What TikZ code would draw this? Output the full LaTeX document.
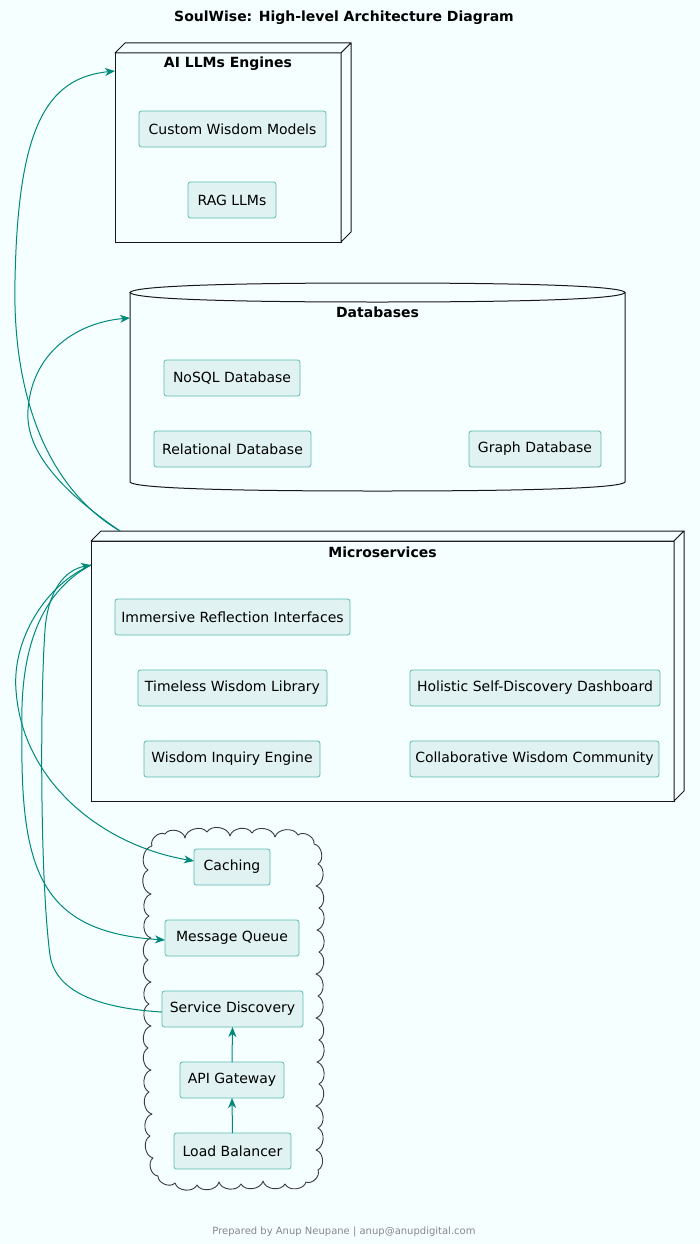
\documentclass[tikz,border=0pt]{standalone}
\usepackage{fontspec}
\setmainfont{DejaVu Sans}
\usetikzlibrary{arrows.meta,calc}
\definecolor{bgc}{HTML}{F5FFFF}
\definecolor{boxfill}{HTML}{E0F2F1}
\definecolor{boxline}{HTML}{5DBBB0}
\definecolor{arrowc}{HTML}{00897B}
\definecolor{footc}{HTML}{888888}
\definecolor{edgec}{HTML}{181818}
\begin{document}
\begin{tikzpicture}[x=1pt,y=-1pt,
  comp/.style={draw=boxline, fill=boxfill, rounded corners=2.5pt, minimum height=36pt,
    inner sep=0pt, outer sep=0pt, font=\fontsize{14pt}{16pt}\selectfont, text=black, line width=0.8pt},
  frontbox/.style={draw=edgec, fill=bgc, line width=1pt, inner sep=0pt, outer sep=0pt, anchor=north west},
  face/.style={draw=edgec, fill=bgc, line width=1pt, line join=round},
  grouptitle/.style={font=\bfseries\fontsize{14pt}{16pt}\selectfont, text=black},
  conn/.style={draw=arrowc, line width=1pt, -{Stealth[length=10pt,width=8pt,inset=3pt]}},
  cloudline/.style={draw=edgec!85, line width=0.9pt, line join=round}
]
\useasboundingbox[fill=bgc] (0,0) rectangle (700,1244);

% title
\node[font=\bfseries\fontsize{14pt}{16pt}\selectfont] (title) at (344,18) {SoulWise: High-level Architecture Diagram};

% AI LLMs Engines (3D node)
\node[frontbox, minimum width=226pt, minimum height=189pt] (ai) at (115,53) {};
\draw[face] (115,53) -- (125,43) -- (351,43) -- (341,53) -- cycle;
\draw[face] (341,53) -- (351,43) -- (351,232) -- (341,242) -- cycle;
\node[grouptitle] (aititle) at (228,64) {AI LLMs Engines};
\node[comp, minimum width=187pt] (cwm) at (232.5,129) {Custom Wisdom Models};
\node[comp, minimum width=88pt] (rag) at (232,200) {RAG LLMs};

% Databases (cylinder)
\node[inner sep=0pt, outer sep=0pt, minimum width=495pt, minimum height=190pt, anchor=north west] (db) at (130,292) {};
\draw[draw=edgec, fill=bgc, line width=1pt]
  (130,292.5) -- (130,482) .. controls (135,491) and (330,491) .. (377.5,491)
  .. controls (425,491) and (620,491) .. (625,482) -- (625,292.5);
\draw[draw=edgec, fill=bgc, line width=1pt]
  (130,292.5) .. controls (135,283) and (330,283) .. (377.5,283)
  .. controls (425,283) and (620,283) .. (625,292.5)
  .. controls (620,302) and (425,302) .. (377.5,302)
  .. controls (330,302) and (135,302) .. (130,292.5) -- cycle;
\node[grouptitle] (dbtitle) at (377.5,312) {Databases};
\node[comp, minimum width=136pt] (nosql) at (232,378) {NoSQL Database};
\node[comp, minimum width=157pt] (rel) at (232.5,449) {Relational Database};
\node[comp, minimum width=132pt] (graph) at (535,449) {Graph Database};

% Microservices (3D node)
\node[frontbox, minimum width=583pt, minimum height=260pt] (ms) at (91,541) {};
\draw[face] (91,541) -- (101,531) -- (684,531) -- (674,541) -- cycle;
\draw[face] (674,541) -- (684,531) -- (684,791) -- (674,801) -- cycle;
\node[grouptitle] (mstitle) at (382.5,552) {Microservices};
\node[comp, minimum width=235pt] (irf) at (232.5,617) {Immersive Reflection Interfaces};
\node[comp, minimum width=189pt] (twl) at (232.5,688) {Timeless Wisdom Library};
\node[comp, minimum width=250pt] (hsd) at (535,688) {Holistic Self-Discovery Dashboard};
\node[comp, minimum width=176pt] (wie) at (232,759) {Wisdom Inquiry Engine};
\node[comp, minimum width=249pt] (cwc) at (534.5,759) {Collaborative Wisdom Community};

% Cloud
\draw[cloudline] (152,846) \foreach \cx/\cy in {165/834,185/838,207/832,230/836,252/833,275/837,298/835,314/844,
  318/864,316/886,319/908,317/930,319/952,316/974,318/996,316/1018,319/1040,317/1062,319/1084,316/1106,318/1128,316/1150,318/1170,
  306/1182,285/1184,263/1181,241/1184,219/1182,197/1185,175/1183,158/1176,
  153/1158,150/1136,152/1114,149/1092,151/1070,148/1048,151/1026,149/1004,151/982,148/960,151/938,149/916,151/894,148/870,152/846}
  { to[bend left=70] (\cx,\cy) };
\node[comp, minimum width=76pt] (cache) at (232,867) {Caching};
\node[comp, minimum width=134pt] (mq) at (232,938) {Message Queue};
\node[comp, minimum width=141pt] (sd) at (232.5,1009) {Service Discovery};
\node[comp, minimum width=104pt] (api) at (232,1080) {API Gateway};
\node[comp, minimum width=117pt] (lb) at (232.5,1151) {Load Balancer};

% connector end points
\coordinate (msA) at ($(ms.north west)+(29,-10)$);
\coordinate (msL) at ($(ms.north west)+(0,24)$);
\coordinate (aiA) at ($(ai.north west)+(0,18)$);
\coordinate (dbA) at ($(db.north west)+(0,26)$);
\coordinate (sdW) at ($(sd.west)+(0,3)$);
\coordinate (cacheW) at ($(cache.west)+(0,-6)$);
\coordinate (mqW) at ($(mq.west)+(0,2)$);

% connectors
\draw[conn] (msA) .. controls (50,490) and (12,400) .. (15,280) .. controls (18,130) and (45,78) .. (aiA);
\draw[conn] (msA) .. controls (60,490) and (25,450) .. (28,410) .. controls (32,350) and (80,322) .. (dbA);
\draw[conn] (sdW) .. controls (95,1008) and (55,990) .. (50,955) .. controls (40,880) and (40,700) .. (45,630) .. controls (48,590) and (65,570) .. (msL);
\draw[conn] (msL) .. controls (45,585) and (12,640) .. (16,690) .. controls (22,780) and (100,845) .. (cacheW);
\draw[conn] (msL) .. controls (35,595) and (20,660) .. (22,730) .. controls (20,870) and (40,932) .. (mqW);
\draw[conn] (lb.north) -- (api.south);
\draw[conn] (api.north) -- (sd.south);

% footer
\node[font=\fontsize{10pt}{12pt}\selectfont, text=footc] (footer) at (344,1232) {Prepared by Anup Neupane | anup@anupdigital.com};
\end{tikzpicture}
\end{document}
